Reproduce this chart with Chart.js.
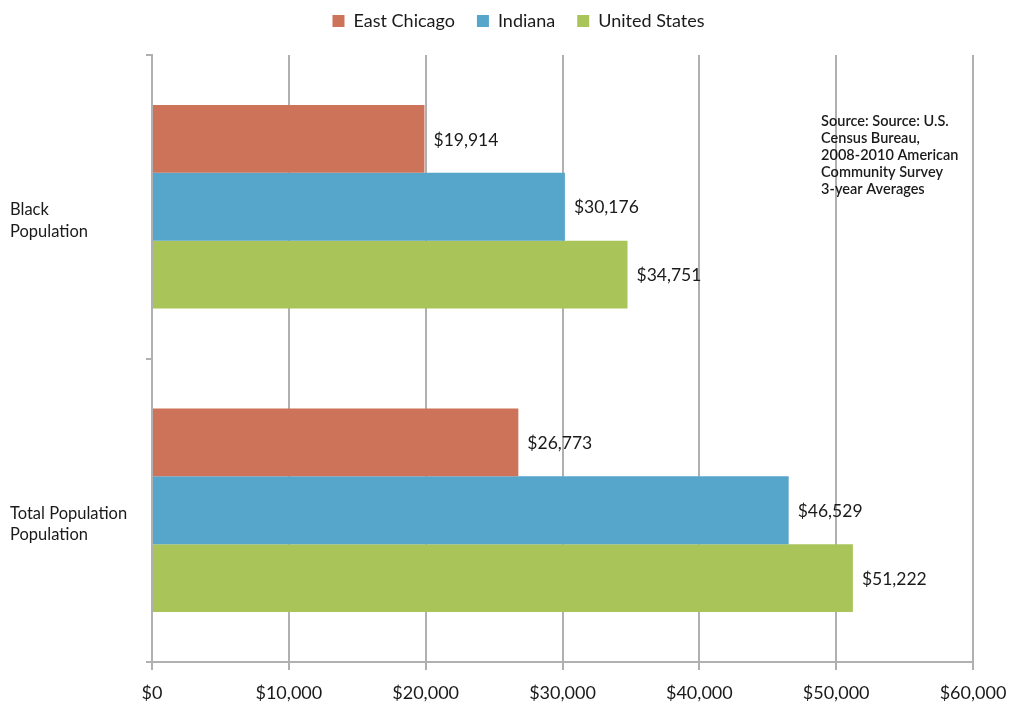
<!DOCTYPE html>
<html>
<head>
<meta charset="utf-8">
<title>Median Household Income</title>
<script src="https://cdn.jsdelivr.net/npm/chart.js@4.4.1/dist/chart.umd.min.js"></script>
<style>
  html, body { margin: 0; padding: 0; background: #fff; }
  #wrap { width: 1009px; height: 702px; position: relative; }
</style>
</head>
<body>
<div id="wrap"><canvas id="chart" width="1009" height="702"></canvas></div>
<script>
const categories = [["Black", "Population"], ["Total Population", "Population"]];
const eastChicago = [19914, 26773];
const indiana = [30176, 46529];
const unitedStates = [34751, 51222];
const xTicks = [0, 10000, 20000, 30000, 40000, 50000, 60000];
const sourceNote = [
  "Source: Source: U.S.",
  "Census Bureau,",
  "2008-2010 American",
  "Community Survey",
  "3-year Averages"
];

const FONT = "Lato, 'Open Sans', sans-serif";
const money = (v) => "$" + v.toLocaleString("en-US");

// value labels at the end of every bar
const barLabels = {
  id: "barLabels",
  afterDatasetsDraw(chart) {
    const ctx = chart.ctx;
    ctx.save();
    ctx.font = "17.5px " + FONT;
    ctx.fillStyle = "#1a1a1a";
    ctx.textAlign = "left";
    ctx.textBaseline = "middle";
    chart.data.datasets.forEach((ds, i) => {
      chart.getDatasetMeta(i).data.forEach((bar, j) => {
        ctx.fillText(money(ds.data[j]), bar.x + 9, bar.y + 1);
      });
    });
    ctx.restore();
  }
};

// source note in the upper right of the plot
const sourceText = {
  id: "sourceText",
  afterDraw(chart) {
    const ctx = chart.ctx;
    const x = chart.scales.x.getPixelForValue(48900);
    ctx.save();
    ctx.font = "600 14.5px " + FONT;
    ctx.fillStyle = "#1a1a1a";
    ctx.textBaseline = "middle";
    sourceNote.forEach((line, i) => {
      ctx.fillText(line, x, 121 + i * 17);
    });
    ctx.restore();
  }
};

// fixed legend height, legend nudged right a little
const legendGap = {
  id: "legendGap",
  beforeLayout(chart) {
    const legend = chart.legend;
    if (!legend || legend._gapPatched) return;
    const fit = legend.fit;
    legend.fit = function () {
      fit.call(this);
      this.height = 65;
    };
    legend._gapPatched = true;
  },
  afterLayout(chart) {
    chart.legend.left += 27;
    chart.legend.right += 27;
  }
};

new Chart(document.getElementById("chart"), {
  type: "bar",
  data: {
    labels: categories,
    datasets: [
      { label: "East Chicago", data: eastChicago, backgroundColor: "#cd7359" },
      { label: "Indiana", data: indiana, backgroundColor: "#56a6cb" },
      { label: "United States", data: unitedStates, backgroundColor: "#a9c55a" }
    ]
  },
  options: {
    indexAxis: "y",
    responsive: false,
    animation: false,
    categoryPercentage: 0.67,
    barPercentage: 1.0,
    layout: { padding: { left: 10, right: 36, top: -10, bottom: 0 } },
    plugins: {
      legend: {
        position: "top",
        labels: {
          boxWidth: 12,
          boxHeight: 12,
          padding: 22,
          color: "#1a1a1a",
          font: { size: 18, family: FONT }
        }
      },
      tooltip: { enabled: false }
    },
    scales: {
      x: {
        min: 0,
        max: 60000,
        afterBuildTicks: (axis) => {
          axis.ticks = xTicks.map((v) => ({ value: v }));
        },
        afterFit: (axis) => {
          axis.height = 40;
          axis.paddingLeft = 0;
          axis.paddingRight = 0;
        },
        ticks: {
          callback: (v) => money(v),
          color: "#1a1a1a",
          padding: 12,
          maxRotation: 0,
          font: { size: 18, family: FONT }
        },
        grid: {
          color: "#b0b0b0",
          lineWidth: 2,
          tickLength: 8
        },
        border: { color: "#b0b0b0", width: 2 }
      },
      y: {
        afterFit: (axis) => { axis.width = 142; },
        ticks: {
          crossAlign: "far",
          labelOffset: 14,
          color: "#1a1a1a",
          font: { size: 16.5, family: FONT, lineHeight: 1.3 }
        },
        grid: {
          drawOnChartArea: false,
          color: "#b0b0b0",
          lineWidth: 2,
          tickLength: 6
        },
        border: { color: "#b0b0b0", width: 2 }
      }
    }
  },
  plugins: [barLabels, sourceText, legendGap]
});
</script>
</body>
</html>
